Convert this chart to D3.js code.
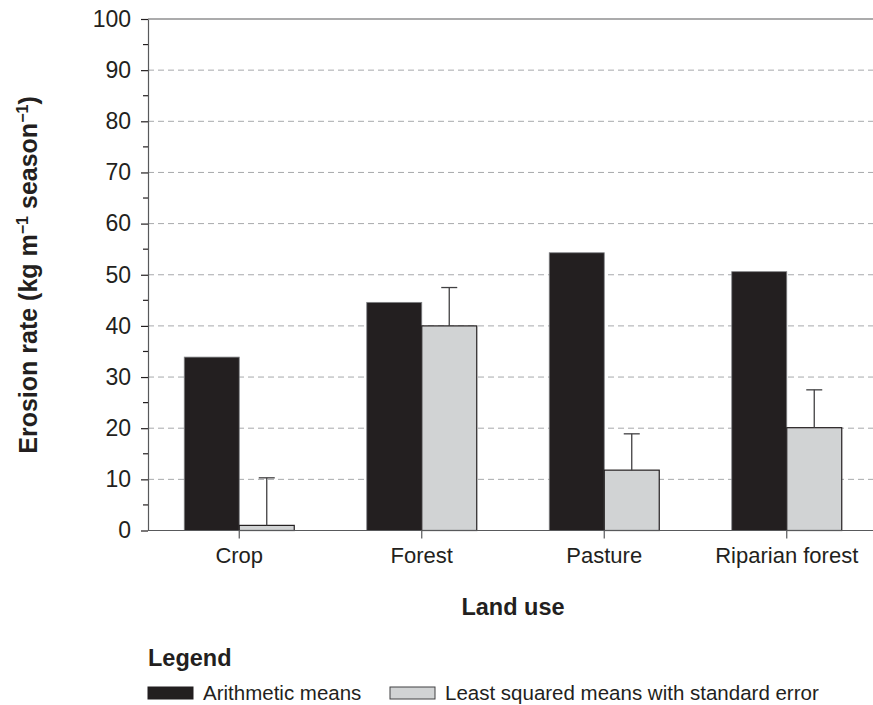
<!DOCTYPE html>
<html>
<head>
<meta charset="utf-8">
<script src="https://cdn.jsdelivr.net/npm/d3@7"></script>
<style>
  html, body { margin: 0; padding: 0; background: #fff; }
  svg { display: block; }
  text { font-family: "Liberation Sans", Arial, sans-serif; fill: #231f20; }
</style>
</head>
<body>
<svg id="chart" width="873" height="705"></svg>
<script>
const categories = ["Crop", "Forest", "Pasture", "Riparian forest"];
const arithmeticMeans = [33.9, 44.6, 54.3, 50.6];
const leastSquaredMeans = [1.0, 40.0, 11.8, 20.1];
const upperError = [10.3, 47.5, 18.9, 27.5];
const yTicks = [0, 10, 20, 30, 40, 50, 60, 70, 80, 90, 100];
const yMinorTicks = [5, 15, 25, 35, 45, 55, 65, 75, 85, 95];
const seriesNames = ["Arithmetic means", "Least squared means with standard error"];

const dark = "#231f20", light = "#d1d3d4";
const svg = d3.select("#chart");
const plotLeft = 148, plotRight = 878, plotTop = 19, plotBottom = 530.5;

const x = d3.scaleBand().domain(categories).range([plotLeft, plotRight]).padding(0);
const y = d3.scaleLinear().domain([0, 100]).range([plotBottom, plotTop]);
const barW = 55;

// gridlines
svg.append("g").selectAll("line").data(yTicks.filter(d => d > 0 && d < 100)).join("line")
  .attr("x1", plotLeft).attr("x2", 873).attr("y1", d => y(d)).attr("y2", d => y(d))
  .attr("stroke", "#a7a9ac").attr("stroke-width", 1).attr("stroke-dasharray", "6,4");
// top solid line
svg.append("line").attr("x1", plotLeft).attr("x2", 873).attr("y1", y(100)).attr("y2", y(100))
  .attr("stroke", "#58595b").attr("stroke-width", 1.2);

// bars
const g = svg.append("g");
g.selectAll("rect.a").data(categories).join("rect").attr("class", "a")
  .attr("x", d => x(d) + x.bandwidth() / 2 - barW)
  .attr("width", barW)
  .attr("y", (d, i) => y(arithmeticMeans[i]))
  .attr("height", (d, i) => y(0) - y(arithmeticMeans[i]))
  .attr("fill", dark).attr("stroke", "#808285").attr("stroke-width", 0.8);
g.selectAll("rect.l").data(categories).join("rect").attr("class", "l")
  .attr("x", d => x(d) + x.bandwidth() / 2)
  .attr("width", barW)
  .attr("y", (d, i) => y(leastSquaredMeans[i]))
  .attr("height", (d, i) => y(0) - y(leastSquaredMeans[i]))
  .attr("fill", light).attr("stroke", dark).attr("stroke-width", 1.2);

// error bars
const eb = svg.append("g").attr("stroke", "#414042").attr("stroke-width", 1.3);
categories.forEach((c, i) => {
  const cx = x(c) + x.bandwidth() / 2 + barW / 2;
  eb.append("line").attr("x1", cx).attr("x2", cx).attr("y1", y(leastSquaredMeans[i])).attr("y2", y(upperError[i]));
  eb.append("line").attr("x1", cx - 8).attr("x2", cx + 8).attr("y1", y(upperError[i])).attr("y2", y(upperError[i]));
});

// x axis
const xAxis = svg.append("g").attr("transform", `translate(0,${plotBottom})`)
  .call(d3.axisBottom(x).tickSizeOuter(0).tickSizeInner(8).tickPadding(9));
xAxis.select(".domain").attr("stroke", "#58595b").attr("stroke-width", 1.2).attr("d", `M${plotLeft},0H873`);
xAxis.selectAll(".tick line").attr("stroke", "#58595b").attr("stroke-width", 1.2);
xAxis.selectAll(".tick text").attr("font-size", 22).attr("fill", dark)
  .style("font-family", '"Liberation Sans", Arial, sans-serif');

// y axis
const yAxis = svg.append("g").attr("transform", `translate(${plotLeft},0)`)
  .call(d3.axisLeft(y).tickValues(yTicks).tickSizeOuter(0).tickSizeInner(7).tickPadding(10));
yAxis.select(".domain").attr("stroke", "#58595b").attr("stroke-width", 1.2);
yAxis.selectAll(".tick line").attr("stroke", "#231f20").attr("stroke-width", 1.2);
yAxis.selectAll(".tick text").attr("font-size", 23).attr("fill", dark)
  .style("font-family", '"Liberation Sans", Arial, sans-serif');
svg.append("g").selectAll("line").data(yMinorTicks).join("line")
  .attr("x1", plotLeft - 5).attr("x2", plotLeft).attr("y1", d => y(d)).attr("y2", d => y(d))
  .attr("stroke", "#231f20").attr("stroke-width", 1.2);

// y title
const yt = svg.append("text").attr("transform", "translate(37,275) rotate(-90)")
  .attr("text-anchor", "middle").attr("font-size", 25).attr("font-weight", "bold");
yt.append("tspan").text("Erosion rate (kg m");
yt.append("tspan").attr("dy", -9).attr("font-size", 16).text("−1");
yt.append("tspan").attr("dy", 9).text(" season");
yt.append("tspan").attr("dy", -9).attr("font-size", 16).text("−1");
yt.append("tspan").attr("dy", 9).text(")");

// x title
svg.append("text").attr("x", 513).attr("y", 615).attr("text-anchor", "middle")
  .attr("font-size", 23.5).attr("font-weight", "bold").text("Land use");

// legend
svg.append("text").attr("x", 148).attr("y", 666).attr("font-size", 23.5).attr("font-weight", "bold").text("Legend");
const legX = [148, 390];
const fills = [dark, light];
seriesNames.forEach((n, i) => {
  svg.append("rect").attr("x", legX[i]).attr("y", 687).attr("width", 45).attr("height", 12)
    .attr("fill", fills[i]).attr("stroke", i === 0 ? dark : "#414042").attr("stroke-width", 1);
  svg.append("text").attr("x", legX[i] + 55).attr("y", 700).attr("font-size", 20.5).text(n);
});
</script>
</body>
</html>
